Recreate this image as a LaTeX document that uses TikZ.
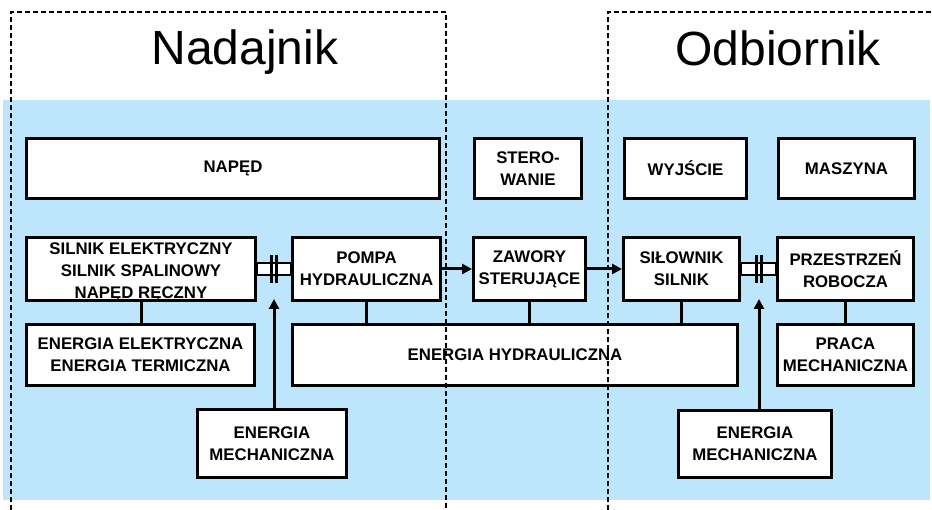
\documentclass[tikz,border=0pt]{standalone}
\usepackage{fontspec}
\setmainfont{Liberation Sans}
\usetikzlibrary{arrows.meta}
\definecolor{bgblue}{RGB}{189,229,251}
\tikzset{
  blkfont/.style={font=\bfseries\fontsize{16.8}{22}\selectfont},
  blk/.style={draw=black, line width=3pt, fill=white, align=center, inner sep=0pt, blkfont},
  conn/.style={line width=3pt},
  arr/.style={line width=3pt, -{Triangle[length=10pt,width=10pt]}},
  dsh/.style={line width=1.1pt, dash pattern=on 5pt off 3pt},
  shaft/.style={draw=black, fill=white, line width=2.2pt},
  plate/.style={fill=black},
  ttl/.style={font=\fontsize{48}{56}\selectfont, anchor=base}
}
\begin{document}
\begin{tikzpicture}[x=1pt,y=-1pt]
\useasboundingbox (0,0) rectangle (932,510);
\fill[white] (0,0) rectangle (932,510);
\fill[bgblue] (3,100) rectangle (930,500);

% top row
\node[blk, minimum width=413pt, minimum height=60pt] (naped) at (233,168.5) {NAPĘD};
\node[blk, minimum width=107pt, minimum height=60pt] (stero) at (528,168.5) {STERO-\\WANIE};
\node[blk, minimum width=122pt, minimum height=60pt] (wyj) at (685.5,168.5) {WYJŚCIE};
\node[blk, minimum width=136pt, minimum height=60pt] (masz) at (846.5,168.5) {MASZYNA};

% second row
\node[blk, minimum width=229pt, minimum height=63pt,
  label={[blkfont, align=center, inner sep=0pt, yshift=-3pt]center:SILNIK ELEKTRYCZNY\\SILNIK SPALINOWY\\NAPĘD RĘCZNY}] (silnik) at (141,269) {};
\node[blk, minimum width=148pt, minimum height=63pt] (pompa) at (366.5,269) {POMPA\\HYDRAULICZNA};
\node[blk, minimum width=112pt, minimum height=63pt] (zawory) at (529.5,269) {ZAWORY\\STERUJĄCE};
\node[blk, minimum width=116pt, minimum height=63pt] (silow) at (681.5,269) {SIŁOWNIK\\SILNIK};
\node[blk, minimum width=136pt, minimum height=63pt] (przes) at (845.5,269) {PRZESTRZEŃ\\ROBOCZA};

% third row
\node[blk, minimum width=228pt, minimum height=61pt] (eel) at (140.5,355) {ENERGIA ELEKTRYCZNA\\ENERGIA TERMICZNA};
\node[blk, minimum width=445pt, minimum height=61pt] (hydr) at (515,355) {ENERGIA HYDRAULICZNA};
\node[blk, minimum width=136pt, minimum height=61pt] (praca) at (845.5,355) {PRACA\\MECHANICZNA};

% fourth row
\node[blk, minimum width=149pt, minimum height=68pt] (emL) at (272,443.5) {ENERGIA\\MECHANICZNA};
\node[blk, minimum width=153pt, minimum height=67pt] (emR) at (755,444) {ENERGIA\\MECHANICZNA};

% vertical connectors
\draw[conn] (silnik.south) -- (silnik.south |- eel.north);
\draw[conn] (pompa.south) -- (pompa.south |- hydr.north);
\draw[conn] (zawory.south) -- (zawory.south |- hydr.north);
\draw[conn] (silow.south) -- (silow.south |- hydr.north);
\draw[conn] (przes.south) -- (przes.south |- praca.north);

% arrows
\draw[arr] (pompa.east) -- (zawory.west);
\draw[arr] (zawory.east) -- (silow.west);

% left coupling
\draw[shaft] (silnik.east |- 0,263) rectangle (pompa.west |- 0,275);
\fill[plate] (269.5,255) rectangle (273,283);
\fill[plate] (274.8,255) rectangle (278.3,283);
\coordinate (cL) at (274,299);
\draw[arr] (cL |- emL.north) -- (cL);

% right coupling
\draw[shaft] (silow.east |- 0,263) rectangle (przes.west |- 0,275);
\fill[plate] (754.5,255) rectangle (758,283);
\fill[plate] (759.8,255) rectangle (763.3,283);
\coordinate (cR) at (759,299);
\draw[arr] (cR |- emR.north) -- (cR);

% dashed frames
\draw[dsh] (11,510) -- (11,12) -- (446,12) -- (446,510);
\draw[dsh] (608,510) -- (608,12) -- (932,12);

% titles
\node[ttl] (nad) at (245,65) {Nadajnik};
\node[ttl] (odb) at (778,66) {Odbiornik};
\end{tikzpicture}
\end{document}
